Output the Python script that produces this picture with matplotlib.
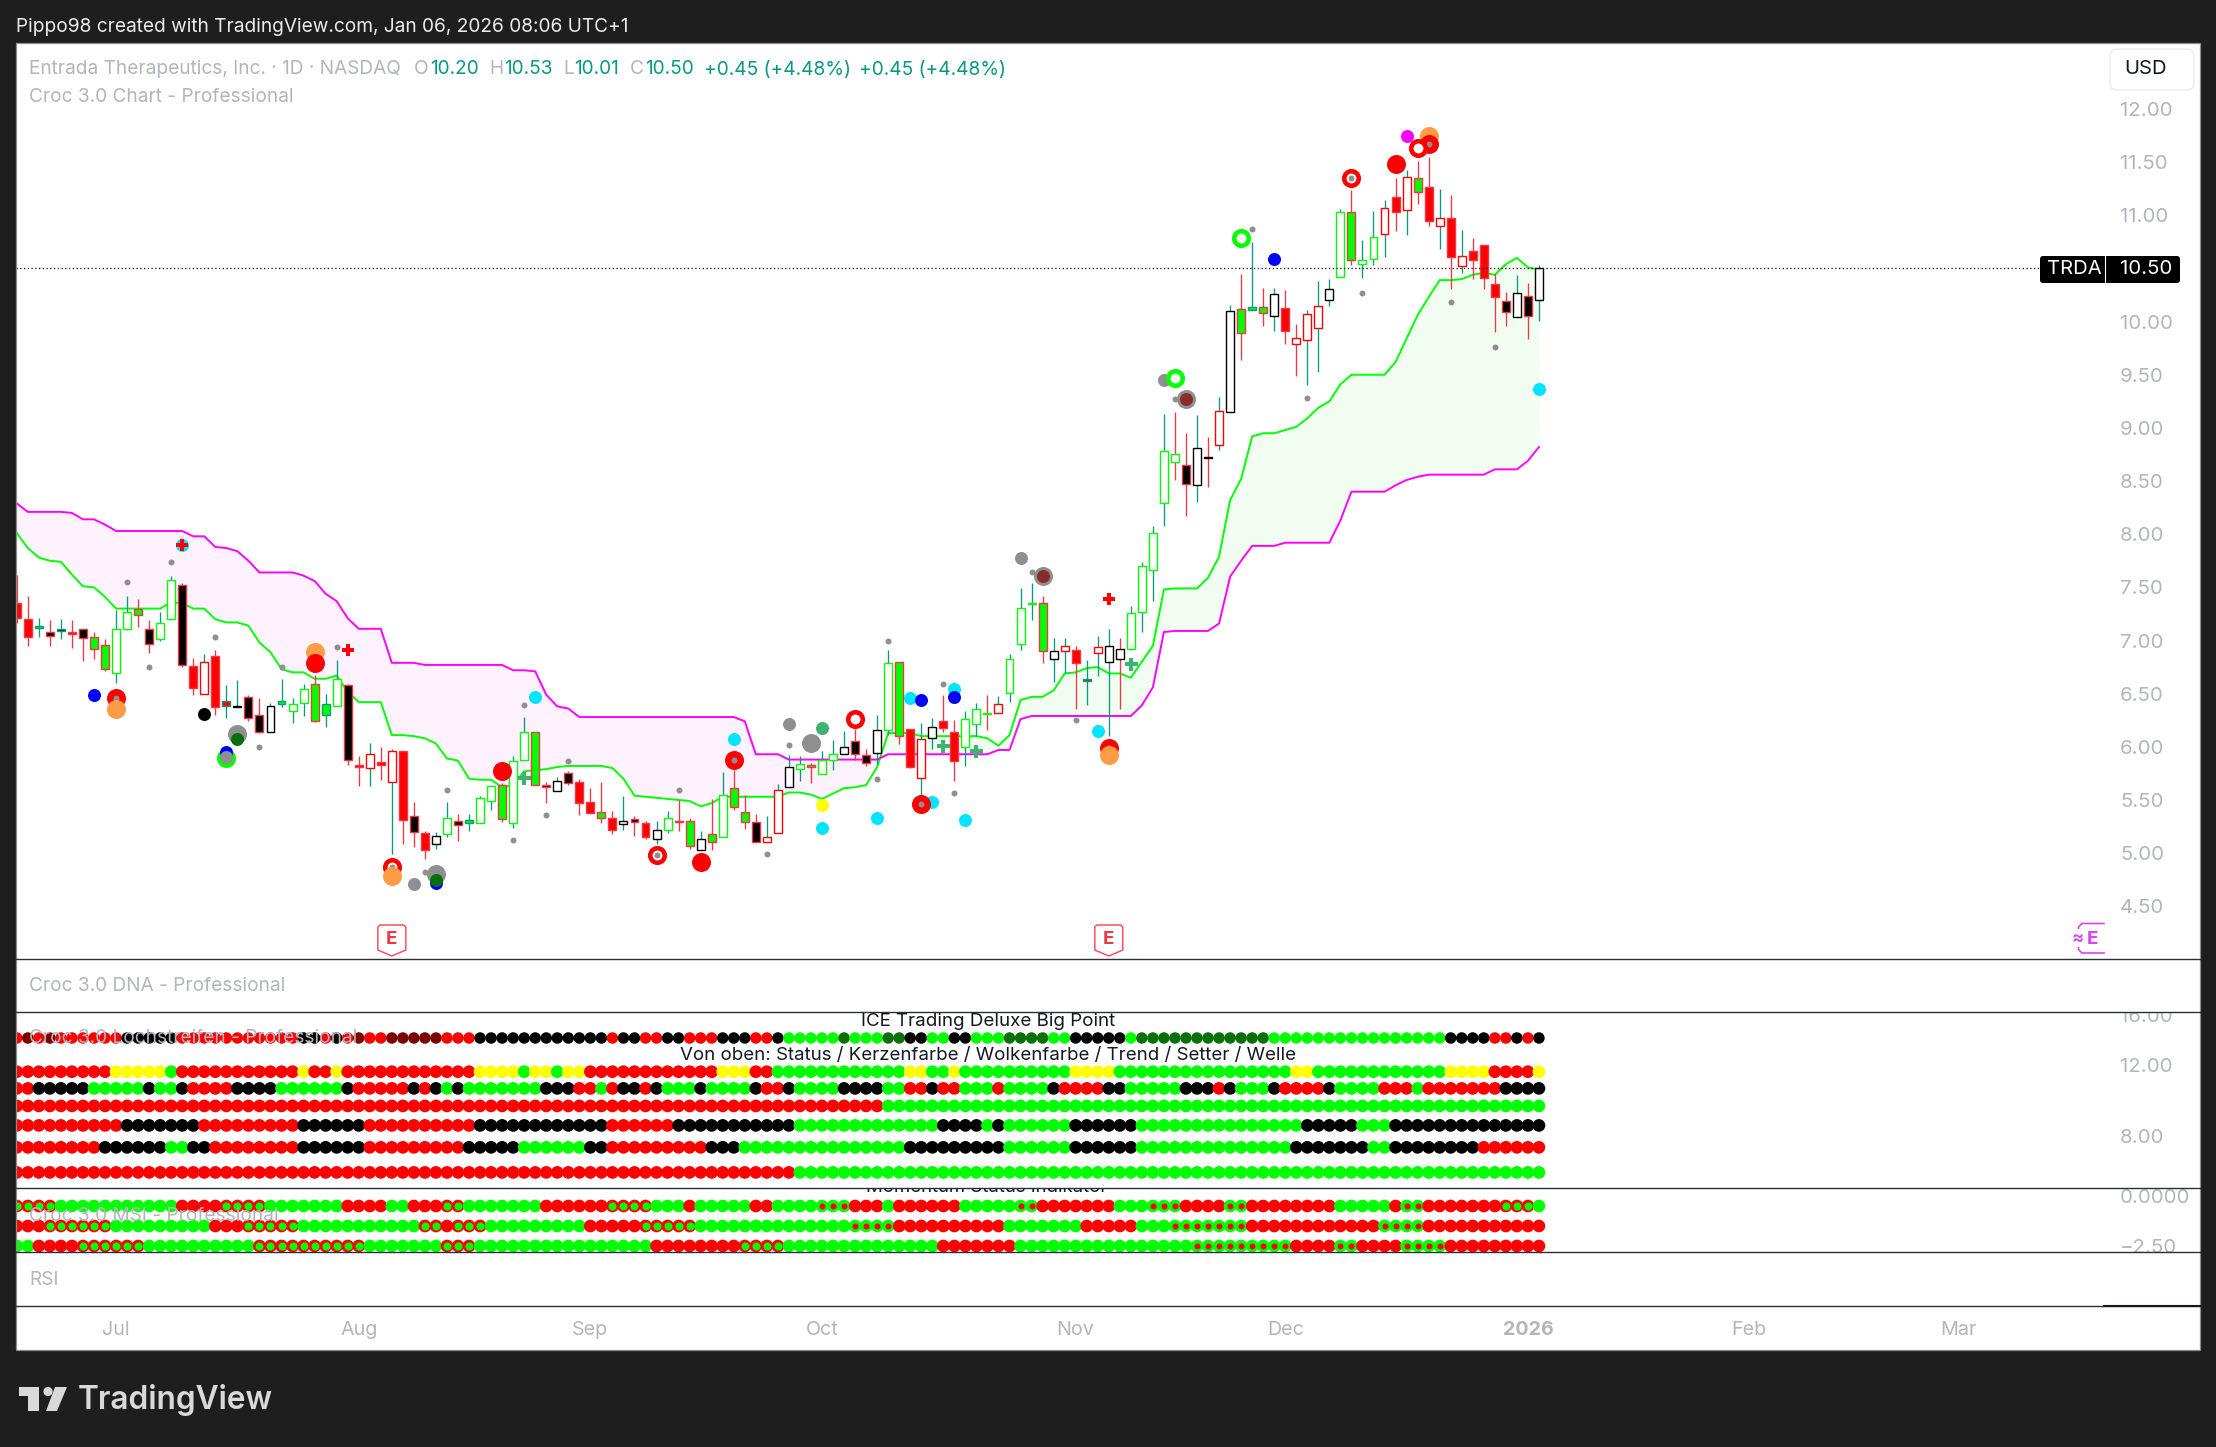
import matplotlib
matplotlib.use("Agg")
import matplotlib.pyplot as plt
import numpy as np
from matplotlib.lines import Line2D
from matplotlib.patches import FancyBboxPatch, Polygon, Circle, Rectangle
from matplotlib.transforms import Affine2D
from matplotlib.ticker import NullLocator

plt.rcParams['font.family'] = ['Inter', 'DejaVu Sans']

# ---------- data ----------
opens = [7.35,7.20,7.12,7.08,7.09,7.08,7.11,7.03,6.96,6.69,
         7.11,7.30,7.11,7.01,7.20,7.52,6.76,6.50,6.85,6.38,
         6.37,6.47,6.30,6.14,6.40,6.34,6.41,6.59,6.30,6.38,
         6.58,5.83,5.80,5.86,5.67,5.96,5.35,5.19,5.09,5.18,
         5.30,5.28,5.28,5.49,5.64,5.28,5.88,6.14,5.64,5.58,
         5.75,5.67,5.48,5.39,5.33,5.27,5.32,5.28,5.13,5.22,
         5.30,5.30,5.03,5.18,5.15,5.61,5.39,5.29,5.10,5.19,
         5.62,5.79,5.83,5.74,5.88,5.93,6.05,5.92,5.94,6.16,
         6.80,6.17,5.71,6.08,6.24,6.14,6.00,6.21,6.32,6.32,
         6.51,6.97,7.34,7.35,6.83,6.90,6.91,6.62,6.88,6.80,
         6.92,6.92,7.27,7.66,8.29,8.75,8.65,8.46,8.73,8.84,
         9.15,10.12,10.11,10.14,10.05,10.13,9.85,9.83,9.94,10.20,
         10.42,11.03,10.54,10.59,10.82,11.17,11.05,11.35,11.27,10.90,
         10.97,10.52,10.66,10.72,10.35,10.19,10.04,10.24,10.20]
closes = [7.21,7.03,7.14,7.04,7.11,7.06,7.02,6.92,6.73,7.11,
          7.27,7.24,6.97,7.16,7.57,6.77,6.55,6.80,6.37,6.43,
          6.38,6.27,6.14,6.38,6.43,6.40,6.54,6.24,6.40,6.64,
          5.88,5.81,5.93,5.83,5.96,5.31,5.20,5.03,5.16,5.33,
          5.26,5.31,5.52,5.63,5.32,5.87,6.14,5.64,5.62,5.68,
          5.66,5.47,5.38,5.33,5.22,5.30,5.29,5.15,5.22,5.33,
          5.29,5.07,5.13,5.10,5.55,5.43,5.29,5.10,5.15,5.59,
          5.81,5.84,5.81,5.88,5.93,6.00,5.93,5.85,6.16,6.79,
          6.10,5.81,6.07,6.19,6.18,5.87,6.26,6.36,6.31,6.40,
          6.83,7.31,7.35,6.90,6.90,6.95,6.79,6.64,6.94,6.95,
          6.83,7.26,7.70,8.01,8.78,8.68,8.47,8.81,8.72,9.16,
          10.10,9.89,10.14,10.08,10.26,9.91,9.79,10.07,10.15,10.31,
          11.03,10.58,10.58,10.80,11.07,11.03,11.36,11.22,10.95,10.97,
          10.61,10.62,10.58,10.41,10.23,10.09,10.27,10.05,10.50]
highs = [7.62,7.42,7.21,7.19,7.20,7.19,7.11,7.08,7.01,7.29,
         7.42,7.39,7.19,7.27,7.61,7.54,6.84,6.87,6.91,6.58,
         6.63,6.49,6.46,6.41,6.64,6.46,6.59,6.68,6.50,6.82,
         6.59,5.91,6.04,6.00,5.98,5.96,5.48,5.21,5.20,5.48,
         5.37,5.37,5.54,5.64,5.66,5.91,6.28,6.14,5.67,5.72,
         5.77,5.70,5.61,5.67,5.40,5.54,5.35,5.30,5.30,5.40,
         5.50,5.33,5.21,5.51,5.76,5.78,5.55,5.37,5.35,5.65,
         5.92,5.91,5.85,5.96,6.06,6.15,6.17,5.98,6.30,6.91,
         6.80,6.17,6.22,6.27,6.49,6.25,6.34,6.41,6.49,6.48,
         6.87,7.49,7.54,7.42,7.02,7.02,6.95,6.82,7.04,7.11,
         7.02,7.32,7.74,8.08,9.13,9.15,8.95,9.12,8.91,9.29,
         10.16,10.45,10.75,10.32,10.32,10.30,9.98,10.11,10.38,10.40,
         11.06,11.24,10.77,11.04,11.14,11.35,11.43,11.51,11.55,11.25,
         11.19,10.86,10.79,10.72,10.45,10.28,10.44,10.36,10.53]
lows = [7.16,6.95,7.03,6.95,7.01,6.93,6.81,6.83,6.71,6.60,
        7.10,7.13,6.88,7.00,7.19,6.75,6.49,6.50,6.30,6.27,
        6.37,6.24,6.13,6.14,6.37,6.22,6.29,6.23,6.19,6.38,
        5.83,5.63,5.63,5.69,4.99,5.09,5.06,4.94,5.04,5.15,
        5.11,5.21,5.28,5.41,5.29,5.24,5.88,5.64,5.47,5.58,
        5.64,5.36,5.38,5.28,5.18,5.22,5.16,5.13,5.09,5.19,
        5.21,5.04,5.03,5.03,5.15,5.41,5.23,5.10,5.10,5.19,
        5.62,5.68,5.66,5.74,5.78,5.93,5.88,5.82,5.84,6.11,
        6.03,5.80,5.55,5.98,6.14,5.68,5.82,6.10,6.16,6.32,
        6.42,6.91,7.19,6.79,6.61,6.69,6.36,6.39,6.67,6.10,
        6.36,6.91,7.08,7.37,8.08,8.51,8.17,8.30,8.44,8.79,
        9.15,9.64,10.14,9.96,9.91,9.79,9.49,9.40,9.53,10.15,
        10.42,10.53,10.41,10.53,10.61,10.85,10.81,11.11,10.90,10.68,
        10.31,10.46,10.40,10.31,9.90,9.96,10.04,9.84,10.01]
# R/G/K filled red/green/black, r/g/k hollow with red/green/black outline
body_kinds = list("RRGKKRKGGg" "gGKggKRrRR" "kKKkGggGGg" "KRrRrRKRkg" "KGggGggGKk"
                  "KRRGRkKRkg" "RGkGgGGKrr" "kgGggkKKkg" "GRrkRRgggr" "gggGkrRRrk"
                  "kgggggKkkr" "kGGGkRrrrk" "gGggrRrGRr" "RrRRRKkKk")

cloud_green = [8.01,7.87,7.78,7.75,7.74,7.62,7.51,7.50,7.41,7.30,
               7.30,7.30,7.30,7.30,7.36,7.35,7.30,7.30,7.20,7.17,
               7.17,7.14,6.98,6.89,6.73,6.70,6.70,6.64,6.64,6.67,
               6.52,6.42,6.42,6.42,6.11,6.11,6.10,6.08,6.03,5.89,
               5.87,5.70,5.69,5.69,5.62,5.64,5.77,5.78,5.79,5.81,
               5.82,5.82,5.82,5.82,5.80,5.70,5.54,5.53,5.52,5.51,
               5.50,5.49,5.44,5.47,5.53,5.53,5.53,5.53,5.53,5.53,
               5.57,5.57,5.55,5.51,5.56,5.61,5.62,5.64,5.81,6.13,
               6.13,6.13,6.10,6.10,6.10,6.10,6.10,6.10,6.08,6.01,
               6.11,6.44,6.47,6.47,6.53,6.69,6.70,6.74,6.75,6.69,
               6.69,6.65,6.80,6.95,7.48,7.49,7.49,7.49,7.59,7.79,
               8.32,8.52,8.92,8.95,8.95,8.98,9.01,9.09,9.19,9.25,
               9.41,9.50,9.50,9.50,9.50,9.62,9.84,10.06,10.23,10.39,
               10.39,10.40,10.44,10.46,10.44,10.54,10.60,10.51,10.49]
cloud_magenta = [8.29,8.21,8.21,8.21,8.21,8.20,8.14,8.14,8.09,8.03,
                 8.03,8.03,8.03,8.03,8.03,8.03,7.98,7.98,7.88,7.87,
                 7.84,7.75,7.64,7.64,7.64,7.64,7.61,7.56,7.44,7.37,
                 7.21,7.11,7.11,7.11,6.79,6.79,6.79,6.77,6.77,6.77,
                 6.77,6.77,6.77,6.77,6.77,6.72,6.72,6.71,6.49,6.38,
                 6.36,6.28,6.28,6.28,6.28,6.28,6.28,6.28,6.28,6.28,
                 6.28,6.28,6.28,6.28,6.28,6.28,6.24,5.93,5.93,5.93,
                 5.88,5.88,5.88,5.88,5.88,5.88,5.88,5.88,5.88,5.93,
                 5.93,5.93,5.93,5.93,5.93,5.93,5.93,5.93,5.93,5.97,
                 5.97,6.26,6.29,6.29,6.29,6.29,6.29,6.29,6.29,6.29,
                 6.29,6.29,6.39,6.56,7.08,7.09,7.09,7.09,7.09,7.16,
                 7.60,7.75,7.89,7.89,7.89,7.92,7.92,7.92,7.92,7.92,
                 8.13,8.40,8.40,8.40,8.40,8.46,8.51,8.54,8.56,8.56,
                 8.56,8.56,8.56,8.56,8.61,8.61,8.61,8.69,8.82]

marker_idx = [15,15,14,10,12,18,29,30,24,27,27,7,9,9,9,17,20,20,22,19,19,19,47,46,44,46,50,48,45,39,
              34,34,34,38,38,38,37,36,60,58,58,62,65,65,65,70,70,68,
              72,73,73,73,76,79,78,78,81,82,85,85,84,84,87,83,82,82,85,86,91,93,93,92,99,101,96,98,99,99,99,
              104,105,106,106,105,111,112,114,121,121,122,125,126,128,128,128,127,117,130,134,138]
marker_price = [7.90,7.90,7.74,7.55,6.75,7.03,6.94,6.91,6.75,6.89,6.79,6.49,6.46,6.46,6.36,6.31,6.12,6.07,6.00,5.89,5.95,5.90,6.47,6.39,5.77,5.71,5.87,5.36,5.12,5.59,
                4.87,4.87,4.78,4.72,4.80,4.75,4.82,4.71,5.59,4.98,4.98,4.92,6.07,5.88,5.88,6.21,6.02,4.99,
                6.04,6.18,5.45,5.24,6.26,7.00,5.70,5.33,6.46,6.44,6.54,6.47,6.59,6.01,5.96,5.48,5.46,5.46,5.57,5.31,7.78,7.61,7.61,7.64,7.39,6.78,6.25,6.15,5.99,5.99,5.92,
                9.45,9.47,9.27,9.27,9.27,10.79,10.87,10.59,11.35,11.35,10.27,11.48,11.75,11.75,11.67,11.67,11.63,9.28,10.18,9.76,9.37]
marker_kind = ['cyan','rplus','s','s','s','s','s','rplus','s','orange','red','blue','red','s','orange','black','greyb','dgreen','s','limeb','blue','greym','cyan','s','red','gplus','s','s','s','s',
               'ring','s','orange','blue','greyb','dgreen','s','greym','s','ring','s','red','cyan','red','s','greym','s','s',
               'greyb','sea','yellow','cyan','ring','s','s','cyan','cyan','blue','cyan','blue','s','gplus','gplus','cyan','red','s','s','cyan','greym','greyb','brown','s','rplus','gplus','s','cyan','red','s','orange',
               'greym','gring','greyb','brown','s','gring','s','blue','ring','s','s','red','magenta','orange','red','s','ring','s','s','s','cyan']

# indicator rows, as (state, bars) runs
row_big = [('R',1),('D',1),('R',1),('D',1),('R',6),('K',5),('R',11),('K',2),('R',1),('K',1),('R',1),('D',1),('R',2),('D',5),('R',3),('K',12),('R',1),('K',2),('R',2),('K',2),('R',3),('K',3),('R',2),('K',1),('G',5),('E',1),('G',3),('E',2),('K',2),('G',2),('K',2),('G',3),('E',4),('G',2),('K',5),('G',1),('E',12),('G',16),('K',4),('R',2),('K',1),('R',1),('K',1)]
row_status = [('R',9),('Y',5),('G',1),('R',11),('Y',1),('R',2),('Y',1),('R',12),('Y',4),('G',1),('Y',2),('G',1),('Y',2),('R',12),('Y',3),('R',2),('G',12),('Y',2),('G',2),('Y',1),('G',10),('Y',4),('G',16),('Y',2),('G',12),('Y',4),('R',4),('Y',1)]
row_candle = [('R',2),('K',5),('G',5),('K',1),('G',2),('K',1),('R',4),('K',4),('G',6),('K',1),('R',5),('K',1),('R',1),('K',1),('G',1),('K',1),('G',7),('K',3),('R',2),('G',1),('R',1),('K',2),('R',1),('K',1),('G',3),('K',1),('G',4),('K',1),('R',2),('K',1),('G',4),('K',4),('G',2),('R',2),('K',1),('R',2),('G',3),('R',1),('G',4),('K',1),('R',4),('K',2),('G',5),('K',3),('R',1),('K',1),('G',3),('K',1),('R',4),('K',1),('G',4),('R',3),('G',1),('R',7),('K',4)]
row_cloud = [('R',79),('G',60)]
row_trend = [('R',10),('K',7),('R',9),('K',6),('R',10),('K',12),('R',6),('K',11),('G',13),('K',4),('G',1),('K',1),('G',6),('K',6),('G',15),('K',5),('G',3),('K',14)]
row_setter = [('R',8),('K',6),('G',2),('K',2),('R',8),('K',6),('R',9),('K',5),('G',6),('K',2),('R',9),('K',3),('G',15),('K',9),('G',6),('K',6),('G',14),('K',7),('G',2),('K',8),('R',6)]
row_wave = [('R',71),('G',68)]
msi_1 = [('g',4),('G',11),('R',4),('g',4),('G',7),('R',4),('G',2),('R',3),('g',2),('G',7),('R',6),('g',4),('G',3),('R',1),('G',5),('R',2),('G',4),('r',3),('R',3),('G',1),('R',6),('G',5),('r',2),('R',7),('G',3),('r',3),('R',4),('r',2),('R',8),('G',5),('R',1),('r',2),('R',7),('g',3),('G',1)]
msi_2 = [('R',3),('g',6),('G',9),('R',3),('g',5),('G',11),('g',2),('R',1),('g',3),('G',9),('R',5),('g',5),('G',14),('r',4),('R',10),('G',7),('R',5),('G',3),('r',7),('R',12),('r',4),('R',11)]
msi_3 = [('G',2),('R',4),('g',6),('G',10),('g',10),('G',7),('g',3),('G',16),('R',8),('g',4),('G',14),('R',7),('G',16),('r',9),('R',4),('r',2),('R',4),('r',4),('R',9)]

dna_levels = [14.0, 11.55, 10.5, 9.5, 8.5, 7.5, 6.5]
msi_levels = [-0.5, -1.5, -2.5]

price_ticks = [12.0,11.5,11.0,10.5,10.0,9.5,9.0,8.5,8.0,7.5,7.0,6.5,6.0,5.5,5.0,4.5]
month_idx = [9,31,52,73,96,115,137,157,176]
month_labels = ['Jul','Aug','Sep','Oct','Nov','Dec','2026','Feb','Mar']
earnings_idx = [34, 99]
last_price = 10.50

# ---------- layout ----------
W, H = 2216, 1447
L, Rt = 16, 2200
BG = '#1e1e1e'
GREY = '#b2b5be'
TEAL = '#089981'
WRED = '#f23645'
LIME = '#00ff00'
RED = '#ff0000'
TICK_SIZE = 14.7

fig = plt.figure(figsize=(W/100, H/100), dpi=100, facecolor=BG)
PX = Affine2D().scale(1, -1).translate(0, H)

def panel(top, bot):
    a = fig.add_axes([L/W, 1-bot/H, (Rt-L)/W, (bot-top)/H], facecolor='white')
    for s in a.spines.values():
        s.set_visible(False)
    a.set_xlim((L-16.8)/11.03, (Rt-16.8)/11.03)
    a.xaxis.set_major_locator(NullLocator())
    a.yaxis.set_major_locator(NullLocator())
    return a

def area(d):
    return (d*0.72)**2

ax = panel(43, 959)
ax_top = panel(959, 1012)
ax_dna = panel(1012, 1188)
ax_msi = panel(1188, 1252)
ax_rsi = panel(1252, 1306)
ax_time = panel(1306, 1350)
ax.set_ylim(12-(959-109)/106.3, 12+(109-43)/106.3)

n = len(closes)
x = np.arange(n)
g = np.array(cloud_green); m = np.array(cloud_magenta)
ax.fill_between(x, g, m, where=g >= m, interpolate=True, color='#f1fdf1', lw=0, zorder=1)
ax.fill_between(x, g, m, where=g <= m, interpolate=True, color='#fdf2fd', lw=0, zorder=1)
ax.plot(x, g, color=LIME, lw=1.4, zorder=2)
ax.plot(x, m, color='#ff00ff', lw=1.4, zorder=2)

fill_of = {'R':RED,'G':LIME,'K':'black','r':'white','g':'white','k':'white'}
edge_of = {'r':RED,'g':LIME,'k':'black'}
for i in range(n):
    wick = TEAL if closes[i] >= opens[i] else WRED
    kind = body_kinds[i]
    edge = edge_of.get(kind, wick)
    ax.vlines(i, lows[i], highs[i], color=wick, lw=0.95, zorder=3)
    lo, hi = min(opens[i], closes[i]), max(opens[i], closes[i])
    ax.bar(i, hi-lo, bottom=lo, width=0.72, facecolor=fill_of[kind], edgecolor=edge, linewidth=1.0, zorder=4)

styles = {'s':('o','#8f8f8f',6),'greym':('o','#8f8f8f',13),'greyb':('o','#8f8f8f',19),'red':('o',RED,19),
          'orange':('o','#ff9c45',19),'blue':('o','#0000ff',13),'cyan':('o','#00e5ff',13),'black':('o','black',13),
          'dgreen':('o','#0a6e0a',13),'limeb':('o',LIME,19),'brown':('o','#8b2c2c',13),'yellow':('o','#ffff00',13),
          'magenta':('o','#ff00ff',13),'sea':('o','#3cb371',13),'rplus':('P',RED,12),'gplus':('P','#3cb371',13)}
for j, (i, p, k) in enumerate(zip(marker_idx, marker_price, marker_kind)):
    z = 5 + j*0.01
    if k in ('ring', 'gring'):
        ax.scatter(i, p, s=area(14.5), facecolor='white', edgecolor=RED if k == 'ring' else LIME,
                   linewidths=3.3, zorder=z)
    else:
        mk, col, d = styles[k]
        ax.scatter(i, p, s=area(d), marker=mk, color=col, linewidths=0, zorder=z)

ax.axhline(last_price, xmin=0, xmax=(2040-L)/(Rt-L), color='black', lw=0.9, ls=(0, (1, 2)), zorder=4.5)

ax.yaxis.tick_right()
ax.set_yticks(price_ticks)
ax.set_yticklabels([f'{v:.2f}' for v in price_ticks])
ax.tick_params(axis='y', length=0, pad=-57.6, labelsize=TICK_SIZE, labelcolor=GREY)

# ---------- indicator rows ----------
dot_col = {'R':RED,'G':LIME,'K':'black','Y':'#ffff00','D':'#7d0000','E':'#0a700a'}

def expand(runs):
    out = []
    for state, cnt in runs:
        out += [state]*cnt
    assert len(out) == n, len(out)
    return out

for k, (lvl, runs) in enumerate(zip(dna_levels, [row_big, row_status, row_candle, row_cloud, row_trend, row_setter, row_wave])):
    states = expand(runs)
    d = 11.5 if k == 0 else 12.7
    ax_dna.scatter(x, [lvl]*n, s=area(d), c=[dot_col[s] for s in states], linewidths=0, zorder=3)
ax_dna.set_yscale('log')
ax_dna.set_ylim(12*np.exp(-123/175.2), 12*np.exp(53/175.2))
ax_dna.yaxis.set_minor_locator(NullLocator())
ax_dna.yaxis.tick_right()
ax_dna.set_yticks([16, 12, 8])
ax_dna.set_yticklabels(['16.00', '12.00', '8.00'])
ax_dna.tick_params(axis='y', which='both', length=0, pad=-57.6, labelsize=TICK_SIZE, labelcolor=GREY)

for lvl, runs in zip(msi_levels, [msi_1, msi_2, msi_3]):
    states = np.array(expand(runs))
    outer = [RED if s in 'Rg' else LIME for s in states]
    ax_msi.scatter(x, [lvl]*n, s=area(12.7), c=outer, linewidths=0, zorder=3)
    for code, col, d in (('g', LIME, 8), ('r', RED, 6)):
        mask = states == code
        ax_msi.scatter(x[mask], [lvl]*mask.sum(), s=area(d), c=col, linewidths=0, zorder=4)
ax_msi.set_ylim(-2.8, 0.4)
ax_msi.yaxis.tick_right()
ax_msi.set_yticks([0, -2.5])
ax_msi.set_yticklabels(['0.0000', '\u22122.50'])
ax_msi.tick_params(axis='y', length=0, pad=-57.6, labelsize=TICK_SIZE, labelcolor=GREY)

for a in (ax_dna, ax_msi):
    for lab in a.get_yticklabels():
        lab.set_clip_box(a.bbox)
        lab.set_clip_on(True)

ax_time.set_xticks(month_idx)
ax_time.set_xticklabels(month_labels)
ax_time.tick_params(axis='x', length=0, pad=-21, labelsize=14.2, labelcolor=GREY)
for lab, t in zip(ax_time.get_xticklabels(), month_labels):
    if t == '2026':
        lab.set_fontweight('bold')

ax_msi.text(987, 1187, 'Momentum Status Indikator', transform=PX, ha='center', va='center',
            fontsize=13.4, color='#131722', zorder=6, clip_on=True)

# ---------- chrome, in picture pixels ----------
def ftext(px, py, s, **kw):
    kw.setdefault('va', 'center')
    kw.setdefault('fontsize', 13.75)
    return fig.text(px, py, s, transform=PX, **kw)

def hline(px0, px1, py, color='#2a2e39', lw=1.0):
    fig.add_artist(Line2D([px0, px1], [py, py], transform=PX, color=color, lw=lw))

fig.add_artist(Rectangle((L, 43), Rt-L, 1350-43, transform=PX, fill=False, edgecolor='#8c8c8c', lw=0.9))
for yy in (959, 1012, 1188, 1252, 1306):
    hline(L, Rt, yy)
hline(2104, Rt, 1305.5, color='#131722', lw=1.5)

ftext(16, 26.5, 'Pippo98 created with TradingView.com, Jan 06, 2026 08:06 UTC+1', color='#ececec')
ftext(29, 69.5, 'Entrada Therapeutics, Inc. \u00b7 1D \u00b7 NASDAQ', color=GREY)
for px, s, c in ((414,'O',GREY),(430,'10.20',TEAL),(489,'H',GREY),(504,'10.53',TEAL),(563,'L',GREY),(574,'10.01',TEAL),
                 (630,'C',GREY),(645,'10.50',TEAL),(704,'+0.45 (+4.48%)',TEAL),(859,'+0.45 (+4.48%)',TEAL)):
    ftext(px, 69.5, s, color=c)
ftext(29, 96.5, 'Croc 3.0 Chart - Professional', color=GREY)
ftext(29, 986, 'Croc 3.0 DNA - Professional', color=GREY)
ftext(29, 1038, 'Croc 3.0 Lochstreifen - Professional', color=GREY)
ftext(29, 1216, 'Croc 3.0 MSI - Professional', color=GREY)
ftext(29, 1280, 'RSI', color=GREY)
ftext(988, 1021, 'ICE Trading Deluxe Big Point', ha='center', color='#131722', fontsize=13.5)
ftext(988, 1055, 'Von oben: Status / Kerzenfarbe / Wolkenfarbe / Trend / Setter / Welle', ha='center', color='#131722', fontsize=13.45)

fig.add_artist(FancyBboxPatch((2110, 49), 84, 41, boxstyle='round,pad=0,rounding_size=7', transform=PX,
                              facecolor='white', edgecolor='#e9ebf0', lw=0.9))
ftext(2124, 69.5, 'USD', color='#131722', fontsize=14.6)

tag_y = 269.5
fig.add_artist(FancyBboxPatch((2040, 256), 140, 27, boxstyle='round,pad=0,rounding_size=3', transform=PX,
                              facecolor='black', edgecolor='none'))
fig.add_artist(Line2D([2104.5, 2104.5], [256, 283], transform=PX, color='white', lw=0.8))
ftext(2047, tag_y, 'TRDA', color='white', fontsize=14.6)
ftext(2120, tag_y, f'{last_price:.2f}', color='white', fontsize=14.7)

# earnings flags
for i in earnings_idx:
    cx = ax.transData.transform((i, 5))[0]
    v = [(cx-14, 927), (cx-12, 925), (cx+12, 925), (cx+14, 927), (cx+14, 950), (cx, 956), (cx-14, 950)]
    fig.add_artist(Polygon(v, closed=True, transform=PX, facecolor='white', edgecolor=WRED, lw=1.1, joinstyle='round', alpha=0.85))
    ftext(cx, 940, 'E', color=WRED, ha='center', fontweight='bold', fontsize=13.5)
MAG = '#e040fb'
fig.add_artist(Line2D([2104, 2082, 2078.5, 2078.5, 2082, 2104], [923.5, 923.5, 927, 949.5, 953, 953],
                      transform=PX, color=MAG, lw=1.2))
ftext(2078, 938, '\u2248', color=MAG, ha='center', fontweight='bold', fontsize=13,
      bbox=dict(facecolor='white', edgecolor='none', pad=0.5))
ftext(2092, 939, 'E', color=MAG, ha='center', fontweight='bold', fontsize=13.5)

# footer logo
LOGO = '#d9d9d9'
fig.add_artist(Polygon([(19, 1387), (39, 1387), (39, 1411), (28, 1411), (28, 1396), (19, 1396)], closed=True, transform=PX,
                       facecolor=LOGO, edgecolor='none'))
fig.add_artist(Circle((48, 1391.5), 4.6, transform=PX, facecolor=LOGO, edgecolor='none'))
fig.add_artist(Polygon([(55, 1387), (67, 1387), (57, 1411), (46, 1411)], closed=True, transform=PX,
                       facecolor=LOGO, edgecolor='none'))
ftext(78, 1400, 'TradingView', color=LOGO, fontsize=22.8, fontweight='semibold')

fig.savefig('out.png', dpi=100, facecolor=BG)
